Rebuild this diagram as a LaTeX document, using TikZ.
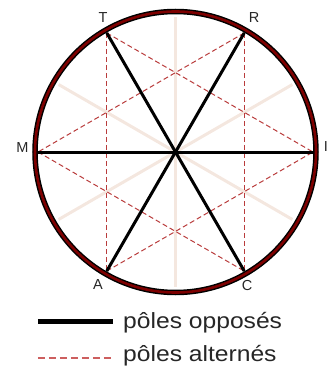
\documentclass[tikz,border=0pt]{standalone}
\usepackage{fontspec}
\setmainfont{Liberation Sans}
\usepackage{graphicx}
\definecolor{faint}{RGB}{244,231,223}
\definecolor{dashred}{RGB}{185,60,60}
\definecolor{legred}{RGB}{205,95,95}
\definecolor{ringred}{RGB}{125,0,0}
\tikzset{
  faintline/.style={faint, line width=3pt},
  altline/.style={dashred, line width=1pt, dash pattern=on 5pt off 3pt},
  oppline/.style={black, line width=3pt},
  polelabel/.style={inner sep=0pt, text=black!85, font=\fontsize{14.5}{16}\selectfont},
  legtext/.style={inner sep=0pt, anchor=base west, text=black!85, font=\fontsize{22}{26}\selectfont}
}
\begin{document}
\begin{tikzpicture}[x=1pt,y=1pt]
\useasboundingbox (0,0) rectangle (332,368);
\coordinate (O) at (175.5,216);
% faint diameters
\foreach \a/\n in {90/f1,30/f2,150/f3}{
  \coordinate (\n a) at ([shift={(\a:135)}]O);
  \coordinate (\n b) at ([shift={(\a+180:135)}]O);
  \draw[faintline] (\n a) -- (\n b);
}
% poles
\coordinate (I) at ([shift={(0:137.5)}]O);
\coordinate (R) at ([shift={(60:137.5)}]O);
\coordinate (T) at ([shift={(120:137.5)}]O);
\coordinate (M) at ([shift={(180:137.5)}]O);
\coordinate (A) at ([shift={(240:137.5)}]O);
\coordinate (C) at ([shift={(300:137.5)}]O);
% alternate poles
\draw[altline] (T) -- (A);
\draw[altline] (R) -- (C);
\draw[altline] (T) -- (I);
\draw[altline] (R) -- (M);
\draw[altline] (M) -- (C);
\draw[altline] (A) -- (I);
% opposite poles
\draw[oppline] (M) -- (I);
\draw[oppline] (T) -- (C);
\draw[oppline] (R) -- (A);
% ring
\draw[black, line width=5.5pt] (O) circle (140.5);
\draw[ringred, line width=2.6pt] (O) circle (140.5);
% labels
\node[polelabel] (lT) at (103,350) {T};
\node[polelabel] (lR) at (254,350) {R};
\node[polelabel] (lM) at (22.5,220.5) {M};
\node[polelabel] (lI) at (326,221) {I};
\node[polelabel] (lA) at (98,83) {A};
\node[polelabel] (lC) at (247,82) {C};
% legend
\coordinate (l1a) at (38,47);
\coordinate (l1b) at (113,47);
\draw[black, line width=5pt] (l1a) -- (l1b);
\node[legtext] (t1) at (123,40) {\scalebox{1.12}[1]{pôles opposés}};
\coordinate (l2a) at (38,10);
\coordinate (l2b) at (113,10);
\draw[legred, line width=1.3pt, dash pattern=on 7pt off 4pt] (l2a) -- (l2b);
\node[legtext] (t2) at (123,6) {\scalebox{1.12}[1]{pôles alternés}};
\end{tikzpicture}
\end{document}
